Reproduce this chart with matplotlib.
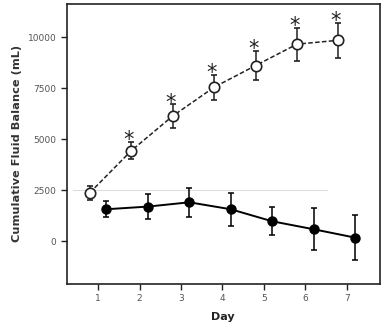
import matplotlib
matplotlib.use("Agg")
import matplotlib.pyplot as plt
import numpy as np

days = [1, 2, 3, 4, 5, 6, 7]
open_mean = [2380, 4440, 6140, 7550, 8610, 9660, 9850]
open_err = [350, 430, 570, 610, 720, 810, 850]
filled_mean = [1570, 1700, 1910, 1570, 980, 590, 180]
filled_err = [380, 610, 725, 800, 680, 1020, 1120]
significant = [False, True, True, True, True, True, True]
yticks = [0, 2500, 5000, 7500, 10000]

fig = plt.figure(figsize=(3.81, 3.29), dpi=100)
ax = fig.add_axes([0.175, 0.137, 0.822, 0.851])

x = np.array(days, dtype=float)
xo = x - 0.2
xf = x + 0.2

ax.axhline(2500, xmin=0.02, xmax=0.83, color="#dddddd", lw=0.8, zorder=0)

ax.errorbar(xo, open_mean, yerr=open_err, fmt="o", ls="--", color="#222222",
            mfc="white", mec="#222222", ms=7.5, mew=1.2, lw=1.1, capsize=2.5,
            elinewidth=1.1, capthick=1.1, dashes=(3, 1.5), zorder=3)
ax.errorbar(xf, filled_mean, yerr=filled_err, fmt="o", ls="-", color="black",
            ms=6.5, lw=1.4, capsize=2.5, elinewidth=1.1, capthick=1.1, zorder=3)

for xi, m, e, s in zip(xo, open_mean, open_err, significant):
    if s:
        ax.text(xi - 0.06, m + e - 220, "*", ha="center", va="baseline",
                fontsize=15, color="#222222", clip_on=False)

ax.set_xlim(0.24, 7.8)
ax.set_ylim(-2090, 11630)
ax.set_xticks(days)
ax.set_yticks(yticks)
ax.tick_params(axis="both", direction="out", length=4, width=1.0,
               labelsize=6.5, labelcolor="#555555", color="#222222")
for sp in ax.spines.values():
    sp.set_linewidth(1.2)
    sp.set_color("#222222")

ax.set_xlabel("Day", fontsize=8, fontweight="bold", color="#222222", labelpad=6)
ax.set_ylabel("Cumulative Fluid Balance (mL)", fontsize=8.2, fontweight="bold",
              color="#333333", labelpad=4)

fig.savefig("out.png", dpi=100)
